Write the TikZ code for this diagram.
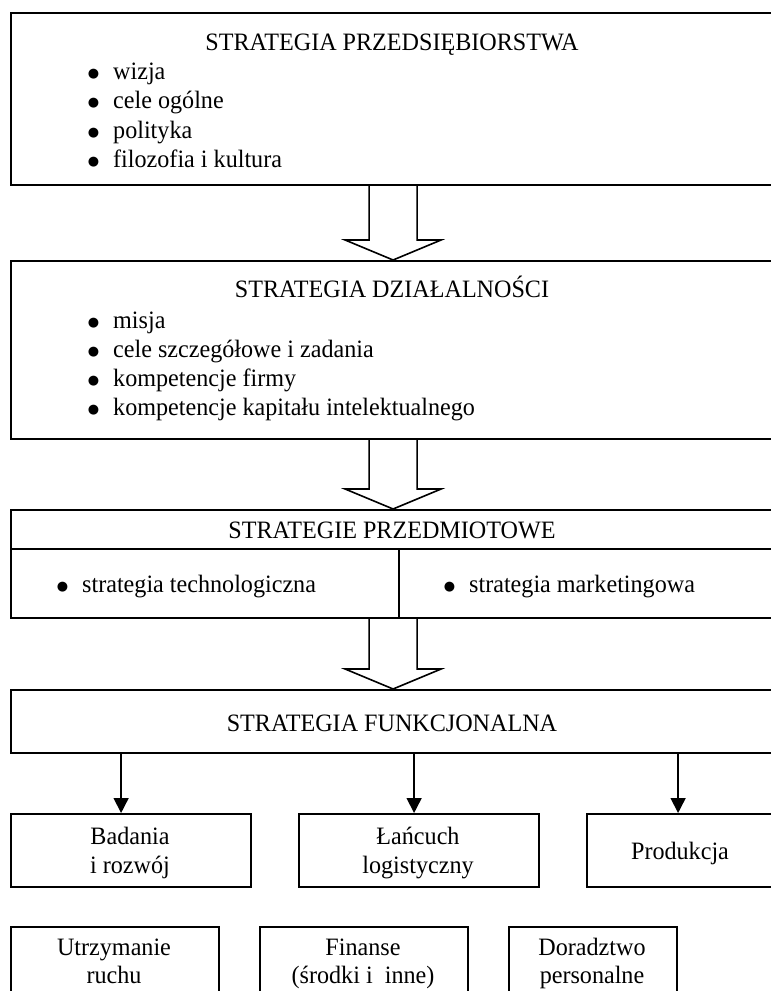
\documentclass[tikz,border=0pt]{standalone}
\usepackage{fontspec}
\setmainfont[FakeStretch=0.965]{Liberation Serif}
\newfontfamily\kropkafont{DejaVu Sans}
\usepackage{tikz}
\usetikzlibrary{calc}
\usetikzlibrary{arrows.meta,positioning}
\tikzset{
    ramka/.style={
        draw,
        line width=2.2pt,
        inner sep=0pt,
        anchor=north west
    },
    % tekst w ramkach
    napis/.style={
        anchor=base,
        inner sep=0pt,
        font=\fontsize{25}{29}\selectfont
    },
    punkt/.style={
        napis,
        anchor=base west
    },
    % szeroka pusta strzalka
    grubastrzalka/.style={
        line width=1.6pt,
        line join=miter,
        fill=white
    },
    cienkastrzalka/.style={
        line width=1.6pt,
        -{Triangle[length=15pt, width=15pt]}
    }
}
\newcommand{\pkt}{\llap{\raisebox{1.2pt}{\kropkafont\fontsize{13}{13}\selectfont ●}\hspace{14pt}}}
\newcommand{\blokstrz}[2]{%
  \draw[grubastrzalka] ($(#1.south)+(-24,0)$) -- ($(#2.north)+(-24,-20)$) -- ($(#2.north)+(-48,-20)$)
    -- (#2.north) -- ($(#2.north)+(48,-20)$) -- ($(#2.north)+(24,-20)$) -- ($(#1.south)+(24,0)$);}

\begin{document}
\begin{tikzpicture}[x=1pt, y=-1pt]
	\useasboundingbox (0,0) rectangle (771,991);
	\clip (0,0) rectangle (771,991);

	\node[ramka, minimum width=764pt, minimum height=172pt] (sp) at (10,12) {};
	\node[napis] (sp-tyt) at (392,50) {STRATEGIA PRZEDSIĘBIORSTWA};
	\node[punkt] (sp-1) at (113,79) {\pkt wizja};
	\node[punkt] (sp-2) at (113,108) {\pkt cele ogólne};
	\node[punkt] (sp-3) at (113,138) {\pkt polityka};
	\node[punkt] (sp-4) at (113,167) {\pkt filozofia i kultura};

	\node[ramka, minimum width=764pt, minimum height=178pt] (sd) at (10,260) {};
	\node[napis] (sd-tyt) at (392,297) {STRATEGIA DZIAŁALNOŚCI};
	\node[punkt] (sd-1) at (113,328) {\pkt misja};
	\node[punkt] (sd-2) at (113,357) {\pkt cele szczegółowe i zadania};
	\node[punkt] (sd-3) at (113,386) {\pkt kompetencje firmy};
	\node[punkt] (sd-4) at (113,415) {\pkt kompetencje kapitału intelektualnego};

	\node[ramka, minimum width=764pt, minimum height=108pt] (sprz) at (10,509) {};
	\draw[line width=2.2pt] ($(sprz.north west)+(0,40)$) -- ($(sprz.north east)+(0,40)$);
	\draw[line width=2.2pt] ($(sprz.south west)+(389,0)$) -- ($(sprz.north west)+(389,40)$);
	\node[napis] (sprz-tyt) at (392,538) {STRATEGIE PRZEDMIOTOWE};
	\node[punkt] (sprz-1) at (82,592) {\pkt strategia technologiczna};
	\node[punkt] (sprz-2) at (469,592) {\pkt strategia marketingowa};

	\node[ramka, minimum width=764pt, minimum height=63pt] (sfun) at (10,689) {};
	\node[napis] (sfun-tyt) at (392,731) {STRATEGIA FUNKCJONALNA};

	\blokstrz{sp}{sd}
	\blokstrz{sd}{sprz}
	\blokstrz{sprz}{sfun}

	\node[ramka, minimum width=240pt, minimum height=73pt] (bad) at (10,813) {};
	\node[napis] (bad-1) at (130,844) {Badania};
	\node[napis] (bad-2) at (130,873) {i rozwój};

	\node[ramka, minimum width=240pt, minimum height=73pt] (lan) at (298,813) {};
	\node[napis] (lan-1) at (418,844) {Łańcuch};
	\node[napis] (lan-2) at (418,873) {logistyczny};

	\node[ramka, minimum width=188pt, minimum height=73pt] (prod) at (586,813) {};
	\node[napis] (prod-1) at (680,859) {Produkcja};

	\draw[cienkastrzalka] ([xshift=-10pt]bad.north |- sfun.south) -- ([xshift=-10pt]bad.north);
	\draw[cienkastrzalka] ([xshift=-5pt]lan.north |- sfun.south) -- ([xshift=-5pt]lan.north);
	\draw[cienkastrzalka] ([xshift=-3pt]prod.north |- sfun.south) -- ([xshift=-3pt]prod.north);

	\node[ramka, minimum width=208pt, minimum height=80pt] (ut) at (10,926) {};
	\node[napis] (ut-1) at (114,955) {Utrzymanie};
	\node[napis] (ut-2) at (114,983) {ruchu};

	\node[ramka, minimum width=208pt, minimum height=80pt] (fin) at (259,926) {};
	\node[napis] (fin-1) at (363,955) {Finanse};
	\node[napis] (fin-2) at (363,983) {(środki i\ \ inne)};

	\node[ramka, minimum width=168pt, minimum height=80pt] (dor) at (508,926) {};
	\node[napis] (dor-1) at (592,955) {Doradztwo};
	\node[napis] (dor-2) at (592,983) {personalne};
\end{tikzpicture}
\end{document}
